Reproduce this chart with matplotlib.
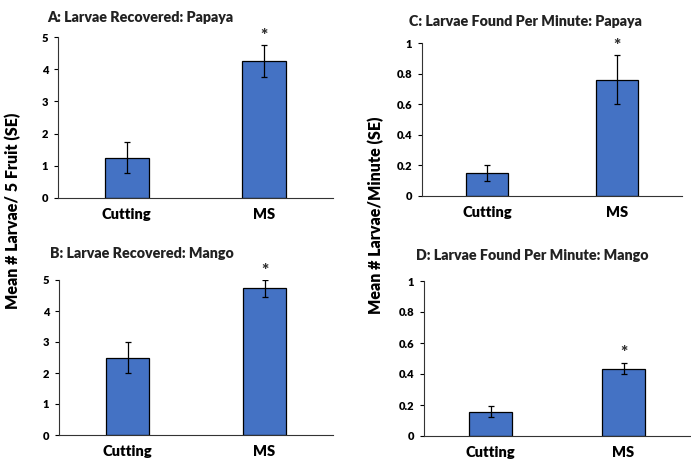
import matplotlib

matplotlib.use("Agg")
import matplotlib.pyplot as plt  # noqa: E402

# data
categories = ["Cutting", "MS"]

papaya_recovered = [1.25, 4.25]
papaya_recovered_se = [0.48, 0.49]
mango_recovered = [2.5, 4.73]
mango_recovered_se = [0.5, 0.27]

papaya_per_min = [0.15, 0.76]
papaya_per_min_se = [0.055, 0.16]
mango_per_min = [0.158, 0.435]
mango_per_min_se = [0.038, 0.038]

significant = [False, True]

titles = {
    "A": "A: Larvae Recovered: Papaya",
    "B": "B: Larvae Recovered: Mango",
    "C": "C: Larvae Found Per Minute: Papaya",
    "D": "D: Larvae Found Per Minute: Mango",
}

BAR_COLOR = "#4472C4"
FONT = "Lato"
WEIGHT = "heavy"

W, H = 691, 474


def px_rect(x0, y0, x1, y1):
    """Pixel box (top-left origin) -> figure fraction rect."""
    return [x0 / W, 1 - y1 / H, (x1 - x0) / W, (y1 - y0) / H]


def draw_panel(ax, means, ses, ymax, yticks, ytick_labels):
    xs = range(len(categories))
    ax.bar(xs, means, width=0.32, color=BAR_COLOR, edgecolor="black",
           linewidth=0.9, zorder=2)
    ax.errorbar(xs, means, yerr=ses, fmt="none", ecolor="black",
                elinewidth=0.9, capsize=2.5, capthick=0.9, zorder=3)
    for x, m, s, sig in zip(xs, means, ses, significant):
        if sig:
            ax.annotate("*", (x, m + s), xytext=(0, 1), textcoords="offset points",
                        ha="center", va="bottom", fontsize=12.5, fontweight=WEIGHT,
                        family=FONT, color="#333333")
    ax.set_xlim(-0.5, len(categories) - 0.5)
    ax.set_ylim(0, ymax)
    ax.set_yticks(yticks)
    ax.set_yticklabels(ytick_labels, family=FONT, fontweight=WEIGHT, fontsize=8)
    ax.set_xticks(list(xs))
    ax.set_xticklabels(categories, family=FONT, fontweight=WEIGHT, fontsize=10.5)
    ax.tick_params(axis="x", length=0, pad=7)
    ax.tick_params(axis="y", length=3, width=0.8, direction="out", pad=4)
    for side in ("top", "right"):
        ax.spines[side].set_visible(False)
    ax.spines["left"].set_linewidth(0.8)
    ax.spines["bottom"].set_linewidth(0.8)
    ax.spines["left"].set_color("#333333")
    ax.spines["bottom"].set_color("#333333")


fig = plt.figure(figsize=(W / 100, H / 100), dpi=100)

count_ticks = [0, 1, 2, 3, 4, 5]
count_labels = [str(t) for t in count_ticks]
rate_ticks = [0, 0.2, 0.4, 0.6, 0.8, 1.0]
rate_labels = ["0", "0.2", "0.4", "0.6", "0.8", "1"]

ax_a = fig.add_axes(px_rect(58, 37, 333, 198))
draw_panel(ax_a, papaya_recovered, papaya_recovered_se, 5, count_ticks, count_labels)
ax_b = fig.add_axes(px_rect(59, 280, 333, 435))
draw_panel(ax_b, mango_recovered, mango_recovered_se, 5, count_ticks, count_labels)
ax_c = fig.add_axes(px_rect(422, 43, 682, 196))
draw_panel(ax_c, papaya_per_min, papaya_per_min_se, 1, rate_ticks, rate_labels)
ax_d = fig.add_axes(px_rect(424, 281, 690, 436))
draw_panel(ax_d, mango_per_min, mango_per_min_se, 1, rate_ticks, rate_labels)

title_kw = dict(family=FONT, fontweight=WEIGHT, fontsize=10.3, ha="center", va="center",
                color="#222222")
fig.text(140 / W, 1 - 17 / H, titles["A"], **title_kw)
fig.text(142 / W, 1 - 254 / H, titles["B"], **title_kw)
fig.text(525 / W, 1 - 21 / H, titles["C"], **title_kw)
fig.text(532 / W, 1 - 255 / H, titles["D"], **title_kw)

ylab_kw = dict(family=FONT, fontweight=WEIGHT, fontsize=11.5, rotation=90,
               ha="center", va="center")
fig.text(13 / W, 1 - 211 / H, "Mean # Larvae/ 5 Fruit (SE)", **ylab_kw)
fig.text(376 / W, 1 - 215 / H, "Mean # Larvae/Minute (SE)", **ylab_kw)

fig.savefig("out.png", dpi=100)
